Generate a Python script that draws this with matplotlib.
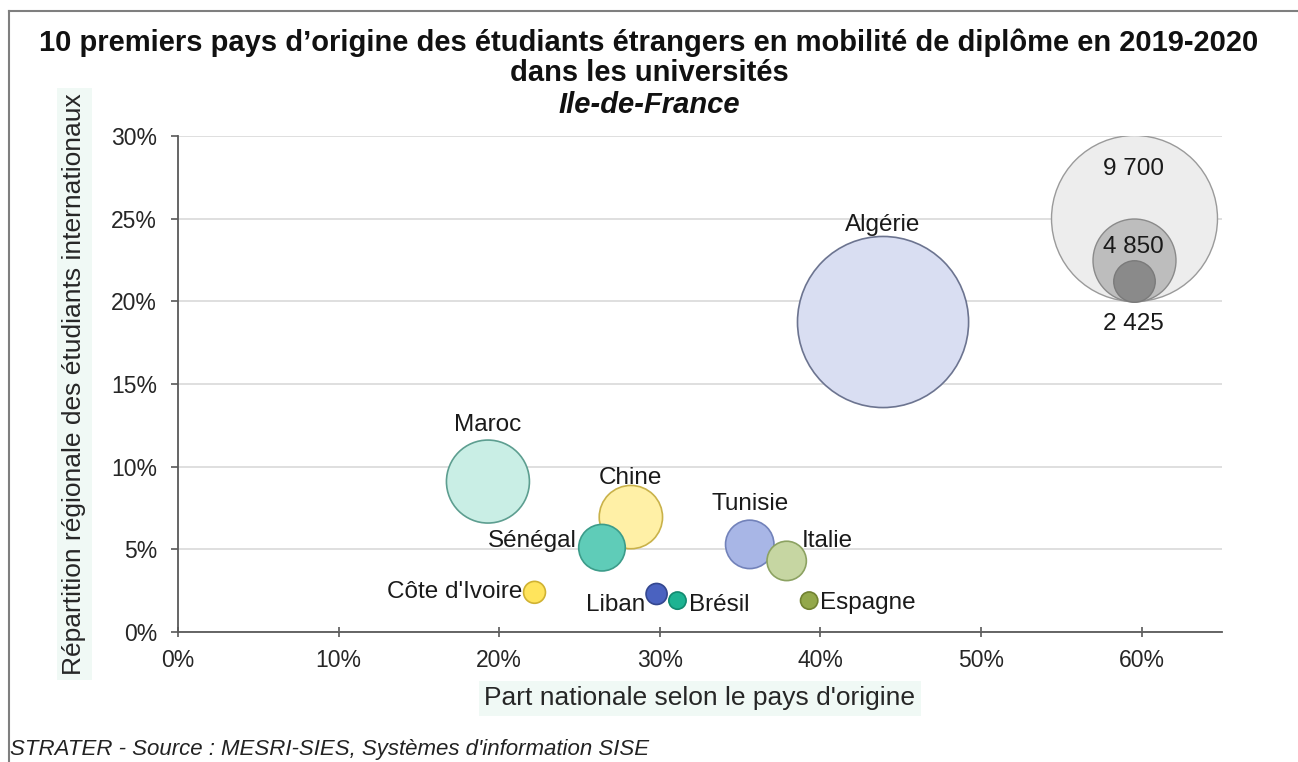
import matplotlib.pyplot as plt
from matplotlib.lines import Line2D
from matplotlib.ticker import PercentFormatter

plt.rcParams['font.family'] = ['Liberation Sans', 'DejaVu Sans']

# données
pays = ['Algérie', 'Maroc', 'Chine', 'Sénégal', 'Tunisie', 'Italie',
        "Côte d'Ivoire", 'Liban', 'Brésil', 'Espagne']
part_nationale = [43.9, 19.3, 28.2, 26.4, 35.6, 37.9, 22.2, 29.8, 31.1, 39.3]
part_regionale = [18.75, 9.1, 6.95, 5.1, 5.3, 4.3, 2.4, 2.3, 1.9, 1.9]
effectifs = [10000, 4850, 3700, 2720, 2830, 2300, 1280, 1230, 1010, 1010]
remplissage = ['#d9def2', '#c9eee5', '#fff0a6', '#5fccb8', '#a8b6e6', '#c6d6a2',
               '#ffe45c', '#4a62c0', '#1db392', '#93a84a']
contour = ['#6c7490', '#5d9e90', '#c9b24a', '#3c9c8a', '#7282ba', '#8ca262',
           '#d0b232', '#34478f', '#128a70', '#718231']

legende_valeurs = [9700, 4850, 2425]
legende_couleurs = ['#ededed', '#bdbdbd', '#8a8a8a']
legende_contours = ['#9a9a9a', '#8a8a8a', '#7a7a7a']

# diamètre proportionnel à l'effectif (en points)
k = 119.5 / 9700


def taille(n):
    return (k * n) ** 2


fig = plt.figure(figsize=(12.98, 7.62), dpi=100)
ax = fig.add_axes([0.1371, 0.1706, 0.9414 - 0.1371, 0.8215 - 0.1706])

ax.scatter(part_nationale, part_regionale, s=[taille(n) for n in effectifs],
           c=remplissage, edgecolors=contour, linewidths=1.2, zorder=3)

# décalage des étiquettes en points : (dx, dy, ha)
pos = {
    'Algérie': (0, 70, 'center'),
    'Maroc': (0, 41, 'center'),
    'Chine': (0, 28, 'center'),
    'Tunisie': (0, 29, 'center'),
    'Sénégal': (-18, 5, 'right'),
    'Italie': (11, 14, 'left'),
    "Côte d'Ivoire": (-9, 0, 'right'),
    'Liban': (-8, -8, 'right'),
    'Brésil': (8, -3, 'left'),
    'Espagne': (8, -2, 'left'),
}
for nom, x, y in zip(pays, part_nationale, part_regionale):
    dx, dy, ha = pos[nom]
    ax.annotate(nom, (x, y), xytext=(dx, dy), textcoords='offset points',
                ha=ha, va='center', fontsize=17.5, color='#1a1a1a', zorder=5)

# légende des tailles
lx, ly_bas = 59.5, 20.0
hauteur_px = 16.53  # pixels pour 1 %
for v, fc, ec in zip(legende_valeurs, legende_couleurs, legende_contours):
    r_px = k * v / 2 / 0.72
    cy = ly_bas + r_px / hauteur_px
    ax.scatter([lx], [cy], s=taille(v), c=fc, edgecolors=ec, linewidths=1, zorder=3)
ax.text(lx, 28.0, '9 700', ha='center', va='center', fontsize=17.5, color='#1a1a1a', zorder=5)
ax.text(lx, 23.3, '4 850', ha='center', va='center', fontsize=17.5, color='#1a1a1a', zorder=5)
ax.text(lx, 18.6, '2 425', ha='center', va='center', fontsize=17.5, color='#1a1a1a', zorder=5)

ax.set_xlim(0, 65)
ax.set_ylim(0, 30)
ax.set_xticks(range(0, 61, 10))
ax.set_yticks(range(0, 31, 5))
ax.xaxis.set_major_formatter(PercentFormatter(decimals=0))
ax.yaxis.set_major_formatter(PercentFormatter(decimals=0))
ax.grid(axis='y', color='#d9d9d9', linewidth=1.2, zorder=0)
ax.set_axisbelow(True)
for s in ['top', 'right']:
    ax.spines[s].set_visible(False)
for s in ['left', 'bottom']:
    ax.spines[s].set_color('#595959')
    ax.spines[s].set_linewidth(1.3)
ax.tick_params(axis='x', direction='inout', length=7, width=1.2, color='#595959',
               labelsize=16.5, pad=9, labelcolor='#262626')
ax.tick_params(axis='y', direction='out', length=5, width=1.2, color='#595959',
               labelsize=16.5, pad=10, labelcolor='#262626')

fond = dict(facecolor='#f0f9f5', edgecolor='none', pad=4)
ax.set_xlabel("Part nationale selon le pays d'origine", fontsize=19,
              color='#262626', labelpad=10, bbox=fond)
ax.set_ylabel('Répartition régionale des étudiants internationaux', fontsize=19,
              color='#262626', labelpad=18, bbox=fond)

fig.text(0.5, 1 - 43 / 762, "10 premiers pays d\u2019origine des étudiants étrangers en mobilité de diplôme en 2019-2020",
         ha='center', va='center', fontsize=21, fontweight='bold', color='#111111')
fig.text(0.5, 1 - 73 / 762, 'dans les universités', ha='center', va='center',
         fontsize=21, fontweight='bold', color='#111111')
fig.text(0.5, 1 - 105 / 762, 'Ile-de-France', ha='center', va='center',
         fontsize=21, fontweight='bold', fontstyle='italic', color='#111111')

fig.text(10 / 1298, 1 - 750 / 762, "STRATER - Source : MESRI-SIES, Systèmes d'information SISE",
         ha='left', va='center', fontsize=16, fontstyle='italic', color='#222222')

# cadre
fig.add_artist(Line2D([9 / 1298, 9 / 1298], [0, 1 - 11 / 762], color='#7f7f7f', linewidth=1.5))
fig.add_artist(Line2D([9 / 1298, 1], [1 - 11 / 762, 1 - 11 / 762], color='#7f7f7f', linewidth=1.5))

fig.savefig('out.png', dpi=100)
